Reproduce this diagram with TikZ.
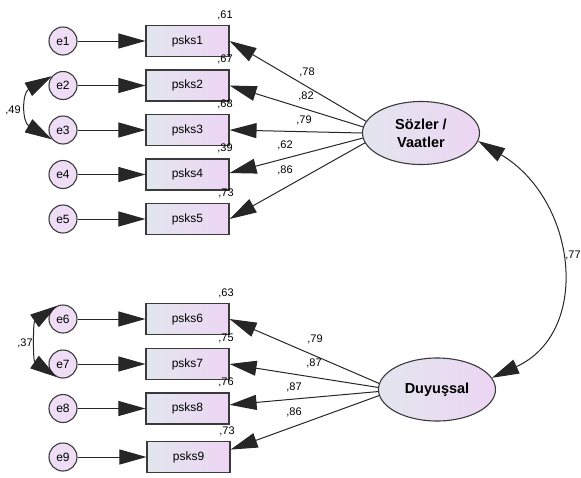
\documentclass[tikz,border=0pt]{standalone}
\usepackage{fontspec}
\setmainfont{Liberation Sans}
\usetikzlibrary{arrows.meta,shapes.geometric}
\definecolor{bordc}{HTML}{3A3A3A}
\definecolor{lavL}{HTML}{E2E6EE}
\definecolor{lavR}{HTML}{EDD5F3}
\definecolor{circfill}{HTML}{EEDDF5}
\begin{document}
\begin{tikzpicture}[x=1pt,y=-1pt,
  errc/.style={circle, draw=bordc, line width=1.1pt, fill=circfill, minimum size=28pt, inner sep=0pt, font=\fontsize{12}{14}\selectfont},
  obsbox/.style={rectangle, draw=bordc, line width=1.1pt, left color=lavL, right color=lavR, minimum width=83pt, minimum height=31pt, inner sep=0pt, font=\fontsize{12}{14}\selectfont},
  latent/.style={ellipse, draw=bordc, line width=1.1pt, left color=lavL, right color=lavR, minimum width=117pt, minimum height=63pt, inner sep=0pt, font=\bfseries\fontsize{14.5}{18}\selectfont, align=center},
  num/.style={font=\fontsize{11}{13}\selectfont, inner sep=0pt},
  tipA/.tip={Triangle[length=27pt,width=15pt]},
  arr/.style={-tipA, line width=1pt, draw=black!85},
  cov/.style={tipA-tipA, line width=1pt, draw=black!85}
]
\useasboundingbox (0,0) rectangle (581,477);

% error terms
\node[errc] (e1) at (63,41) {e1};
\node[errc] (e2) at (63,85.5) {e2};
\node[errc] (e3) at (63,130) {e3};
\node[errc] (e4) at (63,174.5) {e4};
\node[errc] (e5) at (63,219) {e5};
\node[errc] (e6) at (63,319) {e6};
\node[errc] (e7) at (63,364) {e7};
\node[errc] (e8) at (63,408.5) {e8};
\node[errc] (e9) at (63,457) {e9};

% observed
\node[obsbox] (p1) at (187.5,41) {psks1};
\node[obsbox] (p2) at (187.5,85.5) {psks2};
\node[obsbox] (p3) at (187.5,130) {psks3};
\node[obsbox] (p4) at (187.5,174.5) {psks4};
\node[obsbox] (p5) at (187.5,219) {psks5};
\node[obsbox] (p6) at (187.5,319) {psks6};
\node[obsbox] (p7) at (187.5,364) {psks7};
\node[obsbox] (p8) at (187.5,408.5) {psks8};
\node[obsbox] (p9) at (188.5,457) {psks9};

% latent
\node[latent] (soz) at (421,133) {Sözler /\\Vaatler};
\node[latent] (duy) at (437,389.5) {Duyuşsal};

% error arrows
\draw[arr] (e1) -- (p1);
\draw[arr] (e2) -- (p2);
\draw[arr] (e3) -- (p3);
\draw[arr] (e4) -- (p4);
\draw[arr] (e5) -- (p5);
\draw[arr] (e6) -- (p6);
\draw[arr] (e7) -- (p7);
\draw[arr] (e8) -- (p8);
\draw[arr] (e9) -- (p9);

% loadings
\draw[arr] (soz.168) -- (p1.east);
\draw[arr] (soz.174) -- (p2.east);
\draw[arr] (soz.180) -- (p3.east);
\draw[arr] (soz.185) -- (p4.2);
\draw[arr] (soz.190) -- (p5.east);
\draw[arr] (duy.174) -- (p6.east);
\draw[arr] (duy.178) -- (p7.east);
\draw[arr] (duy.182) -- (p8.5);
\draw[arr] (duy.186) -- (p9.10);

% covariances
\draw[cov] (soz.-8) .. controls (577,200) and (592,332) .. (duy.12);
\draw[cov] (e2.140) .. controls (22,93) and (22,122) .. (e3.220);
\draw[cov] (e6.115) .. controls (33,322) and (33,361) .. (e7.245);

% R2 labels
\node[num] (r1) at (225,15) {,61};
\node[num] (r2) at (225,59.5) {,67};
\node[num] (r3) at (225,104) {,68};
\node[num] (r4) at (225,148.5) {,39};
\node[num] (r5) at (226,193) {,73};
\node[num] (r6) at (226,293) {,63};
\node[num] (r7) at (226,338) {,75};
\node[num] (r8) at (226,382.5) {,76};
\node[num] (r9) at (227,431) {,73};

% loading labels
\node[num] (l1) at (307,72) {,78};
\node[num] (l2) at (306,96) {,82};
\node[num] (l3) at (304,120) {,79};
\node[num] (l4) at (285,145) {,62};
\node[num] (l5) at (285,170) {,86};
\node[num] (l6) at (315,339) {,79};
\node[num] (l7) at (314,363) {,87};
\node[num] (l8) at (294,387) {,87};
\node[num] (l9) at (294,412) {,86};

% covariance labels
\node[num] (c1) at (13,110) {,49};
\node[num] (c2) at (25,343) {,37};
\node[num] (c3) at (573,255) {,77};
\end{tikzpicture}
\end{document}
